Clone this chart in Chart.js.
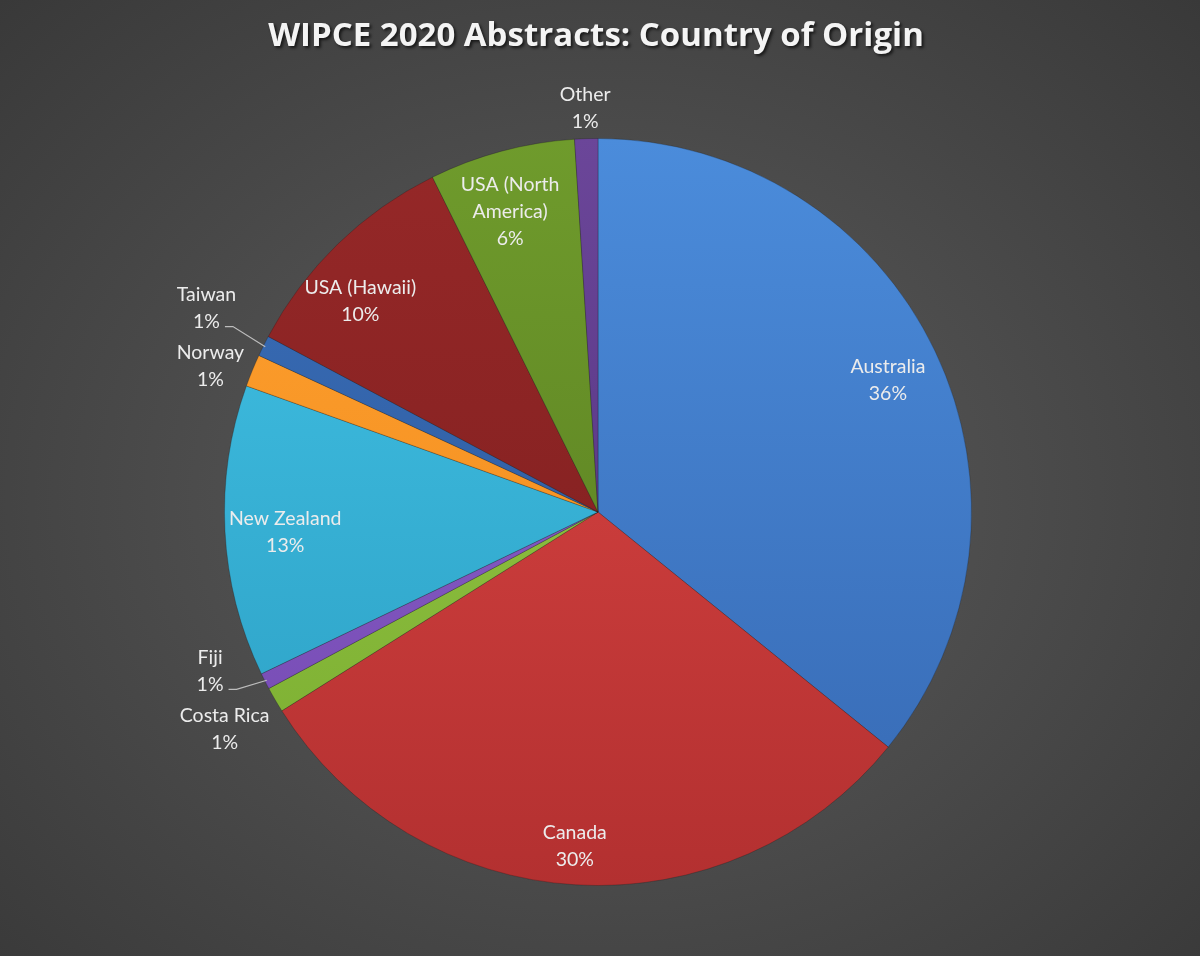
<!DOCTYPE html>
<html>
<head>
<meta charset="utf-8">
<title>WIPCE 2020 Abstracts: Country of Origin</title>
<script src="https://cdn.jsdelivr.net/npm/chart.js@4.4.0/dist/chart.umd.min.js"></script>
<style>
    html, body { margin: 0; padding: 0; }
    body {
        width: 1200px;
        height: 956px;
        overflow: hidden;
        background: radial-gradient(ellipse at 50% 52%, #5a5a5a 0%, #4d4d4d 45%, #393939 100%);
    }
    canvas { display: block; }
</style>
</head>
<body>
<canvas id="pieChart" width="1200" height="956"></canvas>
<script>
const chartTitle = 'WIPCE 2020 Abstracts: Country of Origin';
const countries = ['Australia', 'Canada', 'Costa Rica', 'Fiji', 'New Zealand', 'Norway', 'Taiwan', 'USA (Hawaii)', 'USA (North America)', 'Other'];
// share of abstracts (%)
const shares = [35.8, 30.2, 1.1, 0.7, 12.6, 1.4, 0.9, 9.9, 6.3, 1.0];

// light / dark tone for each slice (top -> bottom shading)
const sliceColors = [
    ['#4b8cdb', '#3668b2'],
    ['#e04846', '#b33030'],
    ['#9ccf4c', '#78aa2e'],
    ['#9468d2', '#7046ae'],
    ['#42c3e6', '#2b9dc2'],
    ['#ffa232', '#ee8616'],
    ['#3a6fba', '#2a5494'],
    ['#962828', '#7a1d1d'],
    ['#6f9b2c', '#56791f'],
    ['#6b4699', '#4e2f79']
];

// manual label moves like in the original; leader = draw a line to the slice
const labelNudge = {
    'Australia': { dx: 0, dy: 6 },
    'Canada': { dx: -4, dy: 14 },
    'New Zealand': { dx: 8, dy: 4 },
    'USA (Hawaii)': { dx: -14, dy: 20 },
    'USA (North America)': { dx: -5, dy: 10 },
    'Norway': { dx: 2, dy: 14 },
    'Other': { dx: 0, dy: 3 },
    'Taiwan': { dx: -17, dy: -18, leader: true },
    'Fiji': { dx: -28, dy: -24, leader: true }
};

const labelFont = '19.5px Lato';
const lineGap = 27;

function wrapLabel(ctx, text, maxWidth) {
    const words = text.split(' ');
    const lines = [];
    let line = '';
    words.forEach(word => {
        const test = line ? line + ' ' + word : word;
        if (line && ctx.measureText(test).width > maxWidth) {
            lines.push(line);
            line = word;
        } else {
            line = test;
        }
    });
    lines.push(line);
    return lines;
}

const titlePlugin = {
    id: 'shadowTitle',
    afterDraw(chart) {
        const ctx = chart.ctx;
        ctx.save();
        ctx.font = 'bold 33px "Open Sans"';
        ctx.textAlign = 'center';
        ctx.textBaseline = 'middle';
        ctx.shadowColor = 'rgba(0,0,0,0.65)';
        ctx.shadowOffsetX = 2;
        ctx.shadowOffsetY = 2;
        ctx.shadowBlur = 3;
        ctx.fillStyle = '#f4f4f4';
        ctx.fillText(chartTitle, 596, 37);
        ctx.restore();
    }
};

const sliceLabels = {
    id: 'sliceLabels',
    afterDatasetsDraw(chart) {
        const ctx = chart.ctx;
        const total = shares.reduce((a, b) => a + b, 0);
        const meta = chart.getDatasetMeta(0);
        ctx.save();
        ctx.font = labelFont;
        ctx.fillStyle = '#ececec';
        ctx.textAlign = 'center';
        ctx.textBaseline = 'middle';
        meta.data.forEach((arc, i) => {
            const p = arc.getProps(['x', 'y', 'startAngle', 'endAngle', 'outerRadius'], true);
            const mid = (p.startAngle + p.endAngle) / 2;
            const dx = Math.cos(mid);
            const dy = Math.sin(mid);
            const frac = shares[i] / total;
            const lines = wrapLabel(ctx, countries[i], 130);
            lines.push(Math.round(frac * 100) + '%');
            const boxW = Math.max(...lines.map(l => ctx.measureText(l).width));
            const boxH = lines.length * lineGap;

            let cx, cy;
            if (frac >= 0.05) {
                cx = p.x + dx * p.outerRadius * 0.86;
                cy = p.y + dy * p.outerRadius * 0.86;
            } else {
                const dist = p.outerRadius + 6 + Math.abs(dx) * boxW / 2 + Math.abs(dy) * boxH / 2;
                cx = p.x + dx * dist;
                cy = p.y + dy * dist;
            }
            const nudge = labelNudge[countries[i]];
            if (nudge) {
                cx += nudge.dx;
                cy += nudge.dy;
            }
            if (nudge && nudge.leader) {
                // leader line from the label to the slice edge
                const lastW = ctx.measureText(lines[lines.length - 1]).width;
                const sx = cx + lastW / 2 + 5;
                const sy = cy + boxH / 2 - lineGap / 2 + 5;
                ctx.save();
                ctx.strokeStyle = '#bdbdbd';
                ctx.lineWidth = 1.2;
                ctx.beginPath();
                ctx.moveTo(sx, sy);
                ctx.lineTo(sx + 8, sy);
                ctx.lineTo(p.x + dx * (p.outerRadius - 2), p.y + dy * (p.outerRadius - 2));
                ctx.stroke();
                ctx.restore();
            }
            lines.forEach((line, k) => {
                ctx.fillText(line, cx, cy - boxH / 2 + lineGap / 2 + k * lineGap);
            });
        });
        ctx.restore();
    }
};

function sliceFill(context) {
    const chart = context.chart;
    const area = chart.chartArea;
    const pair = sliceColors[context.dataIndex];
    if (!area) {
        return pair[0];
    }
    const g = chart.ctx.createLinearGradient(0, area.top, 0, area.bottom);
    g.addColorStop(0, pair[0]);
    g.addColorStop(1, pair[1]);
    return g;
}

const ctx = document.getElementById('pieChart').getContext('2d');
const chart = new Chart(ctx, {
    type: 'pie',
    data: {
        labels: countries,
        datasets: [{
            data: shares,
            backgroundColor: sliceFill,
            borderColor: 'rgba(20,20,20,0.25)',
            borderWidth: 1,
            hoverOffset: 0
        }]
    },
    options: {
        responsive: false,
        animation: false,
        layout: {
            padding: { top: 138, bottom: 70, left: 224, right: 228 }
        },
        plugins: {
            legend: { display: false },
            tooltip: { enabled: false },
            title: { display: false }
        }
    },
    plugins: [sliceLabels, titlePlugin]
});
</script>
</body>
</html>
